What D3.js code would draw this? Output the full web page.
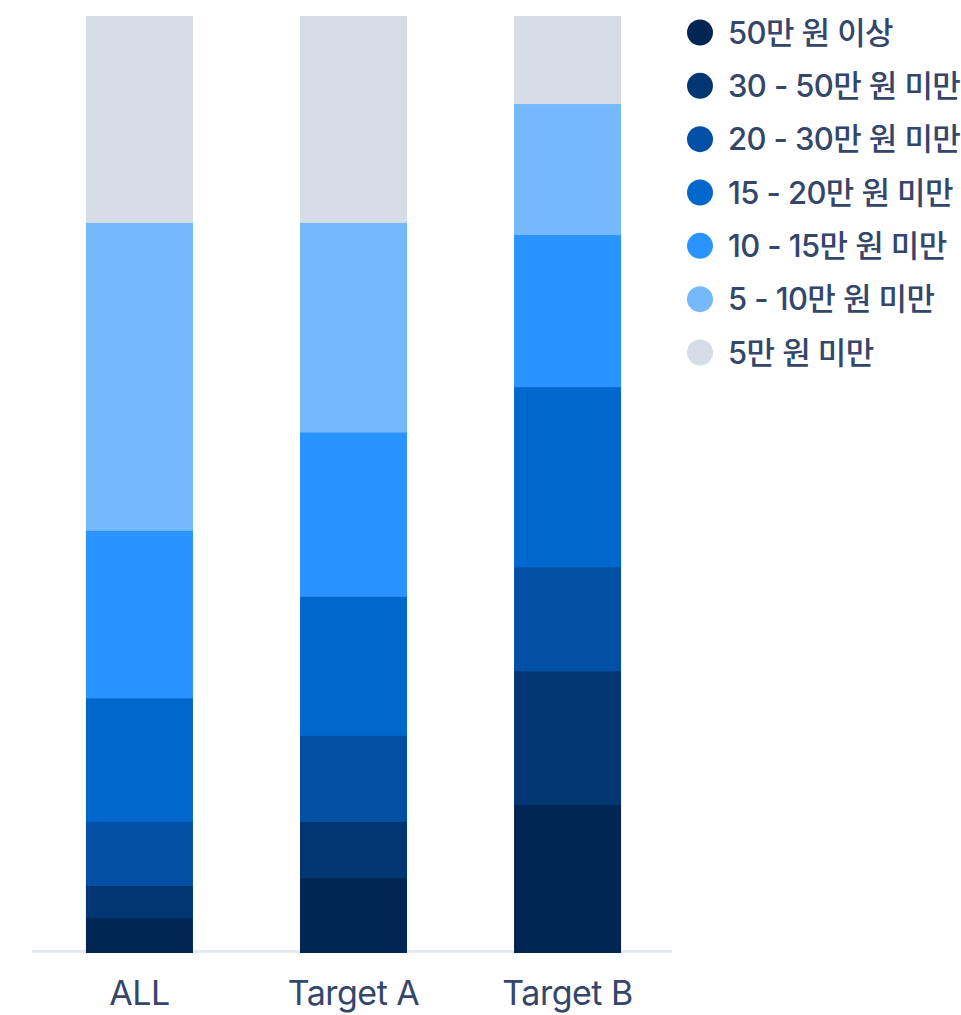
<!DOCTYPE html>
<html>
<head>
<meta charset="utf-8">
<script src="https://cdn.jsdelivr.net/npm/d3@7"></script>
<style>
  body { margin: 0; background: #fff; }
  svg { display: block; }
  text { font-family: Inter, "Noto Sans CJK KR", sans-serif; fill: #34466a; }
</style>
</head>
<body>
<svg id="chart" width="961" height="1015"></svg>
<script>
// categories along x
var groups = ["ALL", "Target A", "Target B"];

// legend order, top to bottom (stack order is the reverse: first one sits on the bottom)
var bands = ["50만 원 이상", "30 - 50만 원 미만", "20 - 30만 원 미만", "15 - 20만 원 미만", "10 - 15만 원 미만", "5 - 10만 원 미만", "5만 원 미만"];
var bandColors = ["#022653", "#013672", "#0150a5", "#0067cd", "#2b93ff", "#75b9fc", "#d5dce6"];

// shares (%) per band, in the order of groups
var over50 = [3.7, 8.0, 15.8];
var from30to50 = [3.45, 6.0, 14.3];
var from20to30 = [6.85, 9.2, 11.1];
var from15to20 = [13.2, 14.85, 19.25];
var from10to15 = [17.9, 17.55, 16.25];
var from5to10 = [32.9, 22.4, 14.0];
var under5 = [22.0, 22.0, 9.3];

var bandValues = [over50, from30to50, from20to30, from15to20, from10to15, from5to10, under5];

var rows = groups.map(function(g, i) {
    var row = { group: g };
    bands.forEach(function(b, j) { row[b] = bandValues[j][i]; });
    return row;
});

var svg = d3.select("#chart");

var x = d3.scaleBand()
    .domain(groups)
    .range([33.5, 673.5])
    .paddingInner(0.5)
    .paddingOuter(0.245);

var y = d3.scaleLinear()
    .domain([0, 100])
    .range([952, 16]);

var color = d3.scaleOrdinal().domain(bands).range(bandColors);

var series = d3.stack().keys(bands)(rows);

// baseline
svg.append("rect")
    .attr("x", 32)
    .attr("y", y(0) - 2)
    .attr("width", 640)
    .attr("height", 3)
    .attr("fill", "#e6eaf2");

svg.append("g")
  .selectAll("g")
  .data(series)
  .enter().append("g")
    .attr("fill", function(d) { return color(d.key); })
  .selectAll("rect")
  .data(function(d) { return d; })
  .enter().append("rect")
    .attr("x", function(d) { return x(d.data.group); })
    .attr("y", function(d) { return y(d[1]); })
    .attr("height", function(d) { return y(d[0]) - y(d[1]) + 1; })
    .attr("width", x.bandwidth());

// x axis labels
var xAxis = svg.append("g")
    .attr("transform", "translate(0," + y(0) + ")")
    .call(d3.axisBottom(x).tickSize(0).tickPadding(29));
xAxis.select(".domain").remove();
xAxis.selectAll("text")
    .attr("font-size", 34)
    .attr("fill", "#34466a")
    .attr("dy", "0.72em")
    .style("letter-spacing", "-0.5px")
    .style("font-family", "Inter, 'Noto Sans CJK KR', sans-serif");

// legend
var ly = d3.scalePoint().domain(bands).range([32.5, 352.5]);

var legend = svg.append("g")
  .selectAll("g")
  .data(bands)
  .enter().append("g")
    .attr("transform", function(d) { return "translate(700," + ly(d) + ")"; });

legend.append("circle")
    .attr("r", 13)
    .attr("fill", function(d) { return color(d); });

legend.append("text")
    .attr("x", 28)
    .attr("dy", "0.36em")
    .attr("font-size", 31)
    .style("letter-spacing", "-0.6px")
    .attr("font-weight", 500)
    .text(function(d) { return d; });
</script>
</body>
</html>
